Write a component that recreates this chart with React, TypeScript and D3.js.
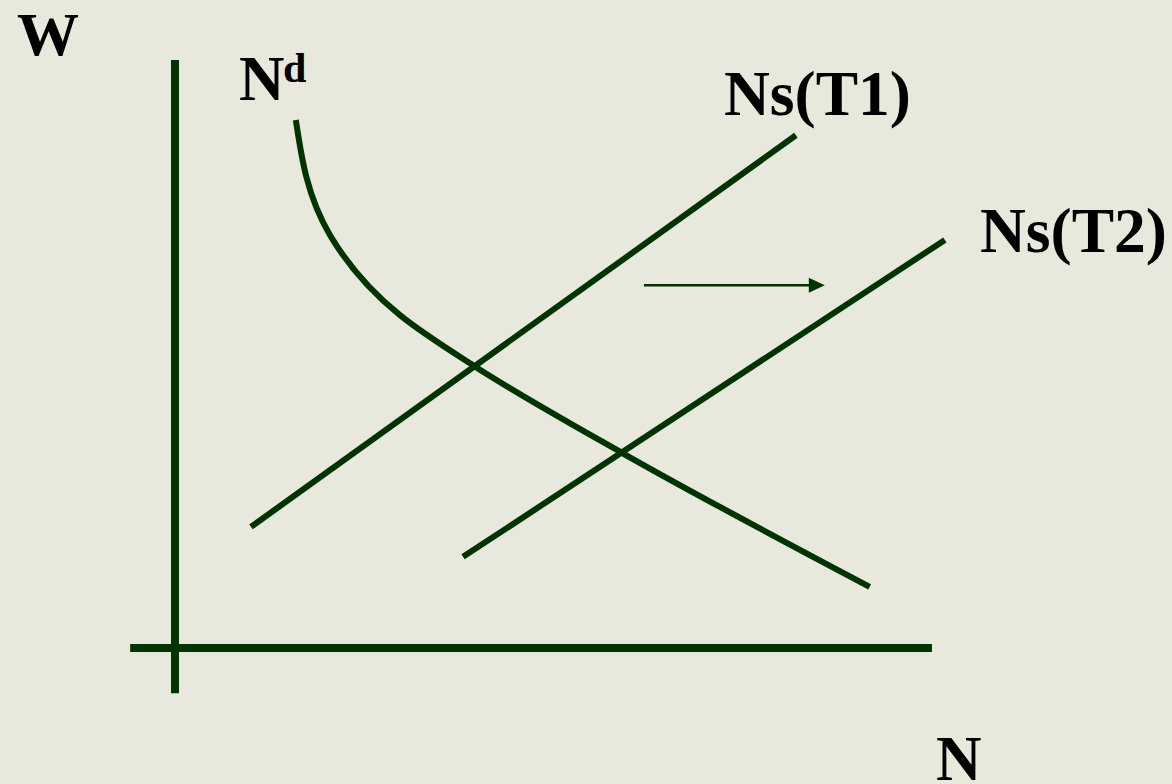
import React from "react";
import * as d3 from "d3";

const W = 1172;
const H = 784;

// Data in abstract units (N on x, W on y)
const demandCurve: [number, number][] = [
  [15.9, 89.8],
  [20.4, 70.2],
  [29.6, 56.6],
  [39.3, 48.0],
  [58.8, 33.2],
  [91.4, 10.4],
];
const supplyT1: [number, number][] = [
  [10.0, 20.6],
  [81.7, 87.2],
];
const supplyT2: [number, number][] = [
  [37.9, 15.5],
  [101.3, 69.4],
];
const shiftArrow: [number, number][] = [
  [61.7, 61.7],
  [85.5, 61.7],
];
const axisXExtent = [-5.9, 99.6];
const axisYExtent = [-7.7, 100];

const labels = {
  w: "W",
  n: "N",
  nd: "N",
  ndSup: "d",
  t1: "Ns(T1)",
  t2: "Ns(T2)",
};

export default function App() {
  const x = d3.scaleLinear().domain([0, 100]).range([175, 935]);
  const y = d3.scaleLinear().domain([0, 100]).range([648, 60]);
  const line = d3
    .line<[number, number]>()
    .x((d) => x(d[0]))
    .y((d) => y(d[1]));
  const curve = d3
    .line<[number, number]>()
    .x((d) => x(d[0]))
    .y((d) => y(d[1]))
    .curve(d3.curveMonotoneY);

  const green = "#003300";
  const font = "'Liberation Serif', 'Times New Roman', serif";

  const ax = x(shiftArrow[1][0]);
  const ay = y(shiftArrow[1][1]);

  return (
    <div
      style={{
        position: "fixed",
        left: 0,
        top: 0,
        width: W,
        height: H,
        background: "#E8E8DC",
      }}
    >
      <svg width={W} height={H} style={{ display: "block" }}>
        <rect width={W} height={H} fill="#E8E8DC" />
        {/* axes */}
        <line
          x1={x(0)}
          x2={x(0)}
          y1={y(axisYExtent[1])}
          y2={y(axisYExtent[0])}
          stroke={green}
          strokeWidth={8}
        />
        <line
          x1={x(axisXExtent[0])}
          x2={x(axisXExtent[1])}
          y1={y(0)}
          y2={y(0)}
          stroke={green}
          strokeWidth={8}
        />
        {/* curves */}
        <path d={line(supplyT1) || ""} fill="none" stroke={green} strokeWidth={6} />
        <path d={line(supplyT2) || ""} fill="none" stroke={green} strokeWidth={6} />
        <path d={curve(demandCurve) || ""} fill="none" stroke={green} strokeWidth={6} />
        {/* arrow */}
        <line
          x1={x(shiftArrow[0][0])}
          x2={ax - 12}
          y1={y(shiftArrow[0][1])}
          y2={ay}
          stroke={green}
          strokeWidth={2.5}
        />
        <path
          d={`M${ax},${ay} L${ax - 16},${ay - 7.5} L${ax - 16},${ay + 7.5} Z`}
          fill={green}
        />
        {/* labels */}
        <g fontFamily={font} fontWeight="bold" fill="#000">
          <text x={17} y={55} fontSize={62}>
            {labels.w}
          </text>
          <text x={239} y={100} fontSize={63}>
            {labels.nd}
          </text>
          <text x={283} y={82} fontSize={42}>
            {labels.ndSup}
          </text>
          <text x={724} y={115} fontSize={63.5}>
            {labels.t1}
          </text>
          <text x={980} y={252} fontSize={63.5}>
            {labels.t2}
          </text>
          <text x={936} y={780} fontSize={63}>
            {labels.n}
          </text>
        </g>
      </svg>
    </div>
  );
}
